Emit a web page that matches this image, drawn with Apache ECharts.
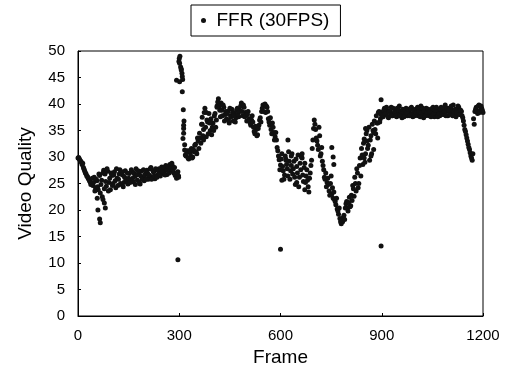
<!DOCTYPE html>
<html>
<head>
<meta charset="utf-8">
<script src="https://cdn.jsdelivr.net/npm/echarts@6/dist/echarts.min.js"></script>
<style>
html,body{margin:0;padding:0;background:#fff;}
#chart{width:507px;height:372px;}
</style>
</head>
<body>
<div id="chart"></div>
<script>
// Base samples: one value every 4 frames, frames 0..1200
const frameStep = 4;
const quality = [
  29.8, 29.6, 29.2, 28.6, 28.0, 27.3, 26.8, 26.3, 25.8, 25.3,
  25.0, 24.6, 26.2, 24.2, 25.5, 23.8, 26.5, 24.8, 22.5, 27.5,
  26.8, 24.5, 27.3, 25.2, 23.8, 26.5, 25.0, 27.2, 24.2, 26.0,
  25.8, 27.6, 24.8, 26.6, 25.2, 27.4, 25.6, 24.9, 26.9, 25.4,
  27.2, 25.3, 26.3, 27.8, 25.6, 26.8, 24.9, 27.3, 26.0, 25.5,
  26.8, 27.5, 25.8, 26.5, 28.0, 26.2, 27.1, 25.9, 27.6, 26.6,
  27.8, 26.4, 28.1, 26.9, 27.4, 28.4, 26.7, 27.9, 28.6, 27.3,
  28.3, 27.0, 26.5, 26.0, 27.2, 48.6, 47.0, 45.8, 38.9, 32.3,
  30.2, 31.2, 29.6, 30.8, 31.6, 30.0, 31.0, 32.4, 30.6, 33.0,
  34.5, 32.6, 37.5, 35.2, 39.2, 33.8, 36.6, 38.2, 35.0, 34.2,
  36.4, 37.8, 35.6, 39.6, 41.0, 38.8, 40.2, 37.8, 39.4, 38.0,
  37.2, 38.6, 36.4, 37.8, 39.0, 36.8, 38.2, 37.4, 39.2, 37.6,
  38.8, 40.2, 37.8, 39.4, 38.4, 36.8, 38.6, 37.2, 36.0, 37.8,
  35.6, 34.4, 35.2, 34.2, 36.0, 37.4, 38.6, 39.8, 39.6, 38.4,
  39.4, 37.2, 36.0, 35.2, 36.4, 34.6, 33.8, 33.2, 31.2, 29.5,
  28.5, 30.6, 27.4, 26.6, 29.6, 27.8, 31.0, 25.8, 28.4, 26.8,
  29.2, 24.8, 28.2, 30.4, 26.2, 27.6, 29.8, 25.4, 28.8, 26.4,
  25.6, 23.4, 27.0, 29.4, 33.2, 37.0, 35.2, 33.0, 31.4, 34.0,
  30.6, 29.2, 27.6, 25.8, 24.4, 26.0, 23.6, 25.0, 23.0, 22.2,
  22.0, 21.0, 20.2, 19.2, 18.4, 17.4, 17.8, 19.0, 20.4, 21.6,
  19.8, 22.4, 20.8, 21.8, 24.0, 26.2, 23.6, 27.0, 25.0, 29.8,
  31.6, 28.6, 33.4, 30.6, 35.0, 32.2, 29.4, 34.0, 36.2, 31.4,
  35.2, 37.8, 33.6, 38.6, 37.2,
  38.4, 37.6, 39.2, 38.0, 38.8, 37.4, 38.6, 39.4, 37.8, 38.2,
  39.0, 37.6, 38.4, 39.6, 38.0, 37.4, 38.8, 38.2, 39.2, 37.8,
  38.6, 38.0, 39.4, 37.6, 38.4, 39.0, 38.2, 37.8, 38.8, 39.6,
  38.0, 37.4, 38.6, 39.2, 38.2, 37.8, 38.8, 38.4, 39.4, 37.6,
  38.2, 39.0, 38.6, 37.8, 39.4, 38.4, 38.0, 39.8, 38.6, 37.8,
  39.2, 38.4, 38.8, 39.8, 38.2, 37.6, 38.8, 39.4, 38.0, 38.6,
  37.4, 36.0, 34.8, 33.6, 32.4, 31.4, 30.2, 29.4, 37.2, 38.6,
  39.4, 38.2, 39.8, 38.8, 39.2, 38.4
];
// Interleaved samples: frames 2, 6, 10, ... 1198
const frameOffsetB = 2;
const qualityB = [
  29.9, 29.4, 29.0, 28.8, 27.7, 27.0, 26.4, 26.0, 25.5, 24.8,
  26.0, 25.2, 23.6, 25.8, 24.4, 26.8, 23.2, 25.6, 27.0, 24.0,
  25.4, 27.8, 23.6, 26.0, 27.0, 24.6, 26.6, 25.5, 27.8, 24.6,
  26.8, 25.0, 27.2, 24.4, 26.2, 25.8, 27.0, 26.0, 25.2, 27.6,
  26.0, 27.0, 24.8, 26.6, 27.4, 25.2, 26.4, 25.8, 27.6, 26.6,
  25.8, 27.0, 26.6, 27.8, 25.8, 27.4, 26.4, 27.8, 26.2, 27.4,
  26.8, 27.6, 27.2, 28.0, 26.6, 27.6, 28.2, 27.0, 27.8, 28.8,
  27.6, 28.0, 26.8, 27.0, 26.2, 49.0, 46.6, 44.6, 36.8, 30.4,
  31.0, 29.8, 31.2, 30.2, 29.8, 31.4, 32.2, 31.0, 33.6, 31.6,
  33.6, 36.2, 34.0, 38.4, 35.6, 37.0, 34.4, 36.4, 37.2, 35.6,
  35.0, 38.2, 37.0, 40.4, 39.6, 37.6, 38.8, 39.8, 36.8, 38.6,
  38.2, 37.0, 39.2, 37.6, 38.4, 37.8, 36.6, 38.8, 38.0, 38.6,
  39.6, 38.6, 39.8, 37.6, 37.8, 38.0, 37.0, 36.4, 37.0, 36.6,
  34.8, 35.8, 34.0, 35.4, 37.0, 36.6, 39.2, 38.6, 40.0, 39.6,
  38.6, 36.6, 37.4, 34.4, 35.6, 33.2, 34.6, 31.8, 30.2, 27.6,
  29.6, 28.2, 25.8, 30.2, 28.6, 26.4, 29.2, 27.4, 30.6, 27.8,
  26.2, 29.6, 27.0, 24.4, 28.8, 30.0, 26.6, 28.0, 25.2, 27.6,
  24.4, 26.0, 28.4, 31.6, 35.4, 36.2, 33.6, 32.2, 35.6, 30.2,
  31.8, 28.4, 26.2, 27.0, 25.2, 24.8, 22.8, 26.4, 24.2, 23.4,
  21.6, 22.2, 19.8, 20.4, 17.8, 18.0, 18.6, 18.2, 21.2, 20.4,
  21.4, 20.6, 22.8, 24.6, 22.6, 25.0, 27.8, 24.2, 28.4, 26.4,
  30.4, 32.6, 29.0, 34.4, 31.6, 35.6, 33.2, 30.6, 35.0, 36.8,
  34.4, 36.4, 38.4, 36.6, 38.0,
  37.8, 38.8, 38.2, 39.4, 37.6, 38.6, 38.0, 37.8, 39.2, 38.6,
  37.8, 39.2, 38.8, 37.8, 38.6, 39.0, 37.6, 38.8, 38.4, 39.0,
  37.8, 39.2, 38.2, 38.8, 37.8, 38.4, 39.4, 38.6, 37.6, 38.4,
  39.2, 38.6, 37.8, 38.4, 39.0, 38.6, 37.6, 39.2, 38.2, 38.8,
  39.4, 37.6, 38.2, 39.0, 38.0, 39.2, 38.6, 37.8, 39.2, 38.8,
  38.0, 39.6, 37.8, 38.6, 39.0, 38.4, 39.6, 38.0, 38.8, 37.8,
  36.8, 35.2, 34.2, 33.0, 31.8, 30.8, 29.8, 30.6, 36.2, 39.0,
  38.6, 39.6, 38.4, 39.6, 38.8
];
// Additional scattered points (spread, spikes and outliers)
const extraFrames = [
  57, 59, 64, 66, 74, 78, 81,
  292, 299, 301, 301, 306, 309, 309, 313, 313, 313, 311, 316,
  298,
  368, 372, 380, 392, 412,
  604, 616, 622, 632, 648, 664, 672,
  752, 756, 758,
  848, 852, 856, 868, 876, 888,
  898,
  296, 600, 898
];
const extraQuality = [
  22.2, 20.0, 18.3, 17.6, 22.0, 21.3, 20.4,
  44.5, 48.0, 47.7, 44.2, 46.4, 45.2, 42.3, 36.0, 35.4, 34.5, 33.5, 31.3,
  26.4,
  36.2, 33.2, 38.4, 36.6, 39.4,
  25.6, 29.4, 33.2, 30.2, 25.2, 30.6, 23.8,
  31.8, 30.0, 28.6,
  29.8, 35.4, 33.0, 30.2, 34.6, 36.4,
  40.8,
  10.6, 12.6, 13.2
];
const seriesName = 'FFR (30FPS)';
const xAxisTitle = 'Frame';
const yAxisTitle = 'Video Quality';

const points = quality.map((v, i) => [i * frameStep, v])
  .concat(qualityB.map((v, i) => [frameOffsetB + i * frameStep, v]))
  .concat(extraFrames.map((f, i) => [f, extraQuality[i]]));

const font = '"Liberation Sans", Arial, sans-serif';
const chart = echarts.init(document.getElementById('chart'), null, {renderer: 'canvas'});
chart.setOption({
  animation: false,
  backgroundColor: '#fff',
  legend: {
    left: 191, top: 5,
    padding: [6, 11, 6, 10],
    borderColor: '#000', borderWidth: 1,
    itemWidth: 16, itemHeight: 5,
    icon: 'circle',
    textStyle: {fontFamily: font, fontSize: 19, color: '#000'},
    data: [seriesName]
  },
  grid: {
    left: 78, right: 24, top: 51, bottom: 56,
    show: true, borderColor: '#000', borderWidth: 1
  },
  xAxis: {
    type: 'value', min: 0, max: 1200, interval: 300,
    name: xAxisTitle, nameLocation: 'middle', nameGap: 32,
    nameTextStyle: {fontFamily: font, fontSize: 19, color: '#000'},
    axisLine: {show: true, lineStyle: {color: '#000', width: 1}},
    axisTick: {show: true, inside: true, length: 3, lineStyle: {color: '#000'}},
    axisLabel: {fontFamily: font, fontSize: 15, color: '#000', margin: 12,
      formatter: v => String(v)},
    splitLine: {show: false}
  },
  yAxis: {
    type: 'value', min: 0, max: 50, interval: 5,
    name: yAxisTitle, nameLocation: 'middle', nameGap: 43,
    nameTextStyle: {fontFamily: font, fontSize: 19, color: '#000'},
    axisLine: {show: true, lineStyle: {color: '#000', width: 1}},
    axisTick: {show: true, inside: true, length: 3, lineStyle: {color: '#000'}},
    axisLabel: {fontFamily: font, fontSize: 15, color: '#000', margin: 13},
    splitLine: {show: false}
  },
  series: [{
    name: seriesName,
    type: 'scatter',
    data: points,
    symbol: 'circle',
    symbolSize: 5,
    itemStyle: {color: '#111', opacity: 1}
  }]
});
</script>
</body>
</html>
